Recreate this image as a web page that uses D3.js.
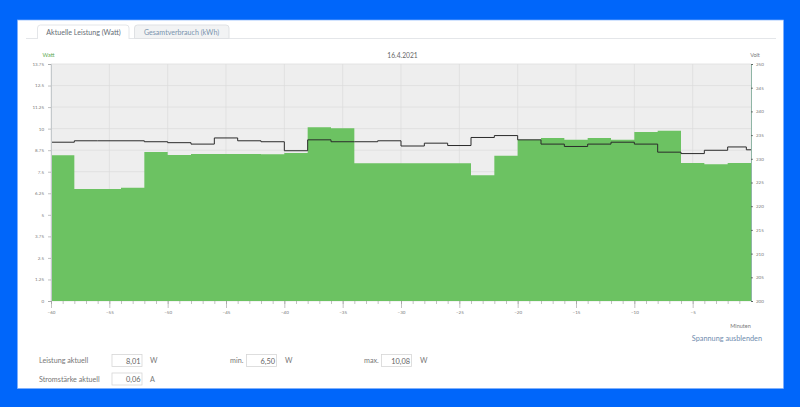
<!DOCTYPE html>
<html>
<head>
<meta charset="utf-8">
<script src="https://cdn.jsdelivr.net/npm/d3@7"></script>
<style>
  html, body { margin: 0; padding: 0; background: #0066fa; overflow: hidden; }
  text { font-family: Lato, sans-serif; }
</style>
</head>
<body>
<div id="my_chart"></div>
<script>
// values
var minutes = [-60,-58,-56,-54,-52,-50,-48,-46,-44,-42,-40,-38,-36,-34,-32,-30,-28,-26,-24,-22,-20,-18,-16,-14,-12,-10,-8,-6,-4,-2];
var watts = [8.45,6.50,6.50,6.57,8.64,8.47,8.53,8.53,8.53,8.51,8.59,10.08,10.02,7.99,7.99,7.99,7.99,7.99,7.29,8.43,9.36,9.46,9.36,9.46,9.36,9.80,9.88,8.01,7.93,8.01];
var volts = [233.5,233.8,233.8,233.8,233.6,233.4,233.1,234.4,233.8,233.6,231.7,234.0,233.6,233.6,233.8,232.7,233.3,232.8,234.5,234.9,234.0,233.1,232.6,233.1,233.5,233.1,231.4,231.1,231.8,232.5];
var wattTicks = [0,1.25,2.5,3.75,5,6.25,7.5,8.75,10,11.25,12.5,13.75];
var wattLabels = ["0","1.25","2.5","3.75","5","6.25","7.5","8.75","10","11.25","12.5","13.75"];
var voltTicks = [200,205,210,215,220,225,230,235,240,245,250];
var minuteTicks = [-60,-55,-50,-45,-40,-35,-30,-25,-20,-15,-10,-5];
var minorTicks = d3.range(-60, 0, 1);
var voltTail = [{m: -0.4, v: 231.9}, {m: 0, v: 231.9}];

var margin = {top: 64, right: 49, bottom: 106, left: 51},
    width = 800 - margin.left - margin.right,
    height = 407 - margin.top - margin.bottom;

var root = d3.select("#my_chart")
  .append("svg")
    .attr("width", 800)
    .attr("height", 407)
    .style("display", "block");

// white panel
root.append("rect").attr("x", 17.5).attr("y", 20).attr("width", 766).attr("height", 368.5)
  .attr("fill", "#fff").attr("stroke", "#7fb0fb").attr("stroke-width", 0.7);

// tabs
root.append("line").attr("x1", 26).attr("x2", 776).attr("y1", 38.5).attr("y2", 38.5).attr("stroke", "#e4e6e9");
root.append("path").attr("d", "M37.5,39V28q0,-3 3,-3H126q3,0 3,3V39").attr("fill", "#fff").attr("stroke", "#e4e6e9");
root.append("path").attr("d", "M134.5,38.5V28q0,-3 3,-3H226q3,0 3,3V38.5Z").attr("fill", "#f2f3f4").attr("stroke", "#dfe1e4");
root.append("text").attr("x", 83.5).attr("y", 35).attr("text-anchor", "middle")
  .attr("font-size", 7.1).attr("fill", "#666e76").text("Aktuelle Leistung (Watt)");
root.append("text").attr("x", 181.5).attr("y", 35).attr("text-anchor", "middle")
  .attr("font-size", 7.1).attr("fill", "#7b93ae").text("Gesamtverbrauch (kWh)");

var svg = root.append("g")
  .attr("transform", "translate(" + margin.left + "," + margin.top + ")");

var x = d3.scaleLinear().domain([-60, 0]).range([0, width]);
var yW = d3.scaleLinear().domain([0, 13.75]).range([height, 0]);
var yV = d3.scaleLinear().domain([200, 250]).range([height, 0]);

svg.append("rect").attr("width", width).attr("height", height).attr("fill", "#eeeeee");

// grid
svg.selectAll("line.hgrid").data(wattTicks).enter().append("line")
  .attr("x1", 0).attr("x2", width)
  .attr("y1", function(d) { return yW(d); })
  .attr("y2", function(d) { return yW(d); })
  .attr("stroke", "#dbdbdb").attr("stroke-width", 0.7);
svg.selectAll("line.vgrid").data(minuteTicks).enter().append("line")
  .attr("x1", function(d) { return x(d); })
  .attr("x2", function(d) { return x(d); })
  .attr("y1", 0).attr("y2", height)
  .attr("stroke", "#dbdbdb").attr("stroke-width", 0.7);

// power
var powerData = minutes.map(function(m, i) { return {m: m, w: watts[i]}; });
powerData.push({m: 0, w: watts[watts.length - 1]});
svg.append("path").datum(powerData)
  .attr("fill", "#6cc262")
  .attr("d", d3.area().curve(d3.curveStepAfter)
    .x(function(d) { return x(d.m); })
    .y0(height)
    .y1(function(d) { return yW(d.w); }));

// voltage
var voltData = minutes.map(function(m, i) { return {m: m, v: volts[i]}; }).concat(voltTail);
svg.append("path").datum(voltData)
  .attr("fill", "none").attr("stroke", "#2b2b2b").attr("stroke-width", 1)
  .attr("d", d3.line().curve(d3.curveStepAfter)
    .x(function(d) { return x(d.m); })
    .y(function(d) { return yV(d.v); }));

// axes
var axisLeft = svg.append("g")
  .call(d3.axisLeft(yW).tickValues(wattTicks).tickSize(3).tickPadding(4)
    .tickFormat(function(d, i) { return wattLabels[i]; }));
var axisRight = svg.append("g").attr("transform", "translate(" + width + ",0)")
  .call(d3.axisRight(yV).tickValues(voltTicks).tickSize(2).tickPadding(3));
var axisBottom = svg.append("g").attr("transform", "translate(0," + height + ")")
  .call(d3.axisBottom(x).tickValues(minuteTicks).tickSize(7).tickPadding(3));
var axisMinor = svg.append("g").attr("transform", "translate(0," + height + ")")
  .call(d3.axisBottom(x).tickValues(minorTicks).tickSize(3).tickFormat(""));

[axisLeft, axisRight, axisBottom, axisMinor].forEach(function(a) {
  a.selectAll("text").attr("font-size", 4.5).attr("fill", "#777");
  a.selectAll("line").attr("stroke", "#999").attr("stroke-width", 0.6);
});
axisLeft.select(".domain").attr("stroke", "#c4c9cc");
axisRight.select(".domain").attr("stroke", "#8fb5a5");
axisRight.selectAll("line").attr("stroke", "#333");
axisBottom.select(".domain").attr("stroke", "none");
axisMinor.select(".domain").attr("stroke", "none");

// chart captions
function label(txt, px, py, size, color, anchor) {
  root.append("text").attr("x", px).attr("y", py)
    .attr("font-size", size).attr("fill", color)
    .attr("text-anchor", anchor || "start").text(txt);
}
label("Watt", 48.5, 57, 5.5, "#5aa84f", "middle");
label("16.4.2021", 402.5, 58, 6.7, "#666", "middle");
label("Volt", 755, 57, 5.5, "#777", "middle");
label("Minuten", 740.5, 327.5, 5.5, "#777", "middle");
label("Spannung ausblenden", 762, 341, 7.3, "#6f8cae", "end");

// values below the chart
function field(txt, bx, by, bw) {
  root.append("rect").attr("x", bx).attr("y", by).attr("width", bw).attr("height", 12)
    .attr("fill", "#fff").attr("stroke", "#d6d6d6").attr("stroke-width", 0.8);
  label(txt, bx + bw - 1.5, by + 9, 7.4, "#666", "end");
}
label("Leistung aktuell", 39, 363, 7.2, "#777");
field("8,01", 112, 354.5, 30);
label("W", 150, 363, 7.2, "#777");
label("min.", 230, 363, 7.2, "#777");
field("6,50", 246.5, 354.5, 30);
label("W", 285, 363, 7.2, "#777");
label("max.", 364, 363, 7.2, "#777");
field("10,08", 381.5, 354.5, 30);
label("W", 420, 363, 7.2, "#777");
label("Stromstärke aktuell", 39, 381.5, 7.2, "#777");
field("0,06", 112, 373, 30);
label("A", 150, 381.5, 7.2, "#777");
</script>
</body>
</html>
